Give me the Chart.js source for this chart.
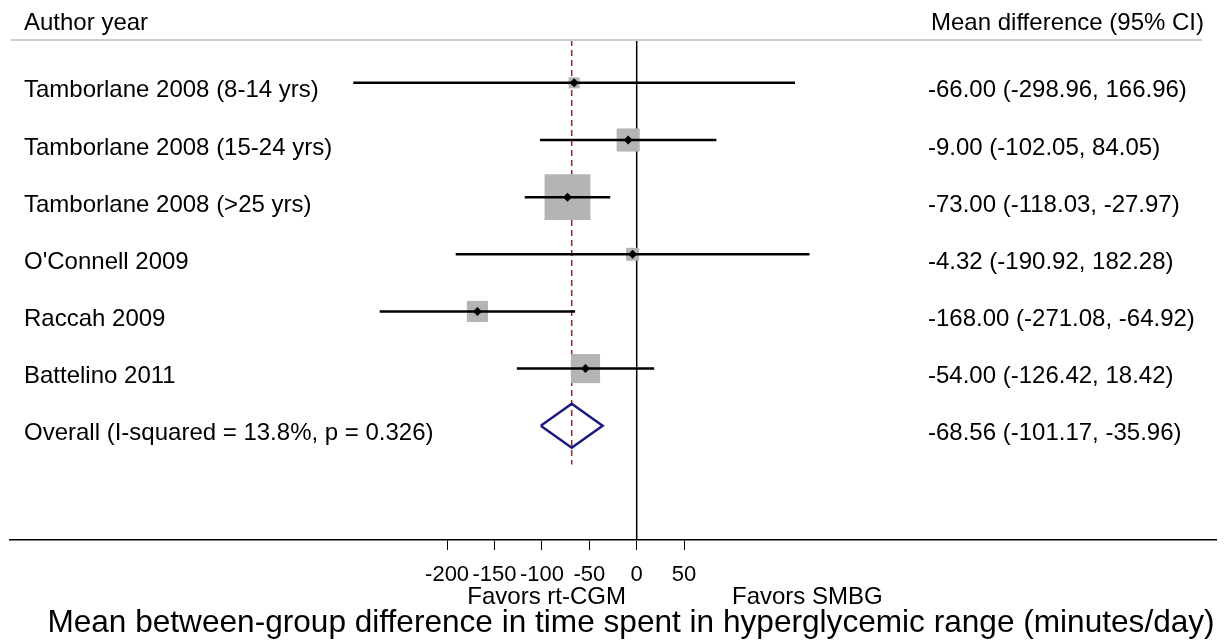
<!DOCTYPE html>
<html><head><meta charset="utf-8">
<script src="https://cdn.jsdelivr.net/npm/chart.js@4.4.1/dist/chart.umd.min.js"></script>
<style>html,body{margin:0;padding:0;background:#fff;}#wrap{width:1226px;height:643px;position:relative;}</style>
</head><body><div id="wrap"><canvas id="c" width="1226" height="643"></canvas></div>
<script>
// ---- data ----
const studies = ["Tamborlane 2008 (8-14 yrs)", "Tamborlane 2008 (15-24 yrs)", "Tamborlane 2008 (>25 yrs)", "O'Connell 2009", "Raccah 2009", "Battelino 2011"];
const estimates = [-66.00, -9.00, -73.00, -4.32, -168.00, -54.00];
const lowerCI = [-298.96, -102.05, -118.03, -190.92, -271.08, -126.42];
const upperCI = [166.96, 84.05, -27.97, 182.28, -64.92, 18.42];
const weights = [2.9, 12.6, 49.8, 4.0, 10.5, 20.1];
const overallLabel = "Overall (I-squared = 13.8%, p = 0.326)";
const overallEst = -68.56;
const overallLower = -101.17;
const overallUpper = -35.96;
const xTicks = [-200, -150, -100, -50, 0, 50];
const headerLeft = "Author year";
const headerRight = "Mean difference (95% CI)";
const favorLeft = "Favors rt-CGM";
const favorRight = "Favors SMBG";
const xTitle = "Mean between-group difference in time spent in hyperglycemic range (minutes/day)";

// ---- styling ----
const FONT = "'Liberation Sans', Arial, Helvetica, sans-serif";
const nStudies = studies.length;
const overallRow = nStudies + 1;
const fmt = (e, l, u) => `${e.toFixed(2)} (${l.toFixed(2)}, ${u.toFixed(2)})`;

const datasets = [];
// reference lines
datasets.push({ data: [{x: 0, y: 0.25}, {x: 0, y: 9}], showLine: true, borderColor: '#000', borderWidth: 1.5, pointRadius: 0, order: 10 });
datasets.push({ data: [{x: overallEst, y: 0.25}, {x: overallEst, y: overallRow + 0.68}], showLine: true, borderColor: '#8e2b2b', borderWidth: 1.5, borderDash: [6, 4], pointRadius: 0, order: 10 });
// weight boxes
datasets.push({ data: estimates.map((e, i) => ({x: e, y: i + 1})), pointStyle: 'rect', pointRadius: weights.map(w => 6.5 * Math.sqrt(w) / (2 * Math.SQRT1_2)), backgroundColor: '#b4b4b4', borderWidth: 0, order: 8 });
// CI lines
for (let i = 0; i < nStudies; i++) {
  datasets.push({ data: [{x: lowerCI[i], y: i + 1}, {x: upperCI[i], y: i + 1}], showLine: true, borderColor: '#000', borderWidth: 2.5, borderCapStyle: 'butt', pointRadius: 0, order: 5 });
}
// overall diamond
const dh = 0.385;
datasets.push({ data: [{x: overallLower, y: overallRow}, {x: overallEst, y: overallRow - dh}, {x: overallUpper, y: overallRow}, {x: overallEst, y: overallRow + dh}, {x: overallLower, y: overallRow}], showLine: true, borderColor: '#1a1a7e', borderWidth: 2.5, borderJoinStyle: 'miter', fill: false, pointRadius: 0, order: 4 });
// point estimates
datasets.push({ data: estimates.map((e, i) => ({x: e, y: i + 1})), pointStyle: 'rectRot', pointRadius: 4.5, backgroundColor: '#000', borderWidth: 0, order: 1 });

const textPlugin = {
  id: 'forestText',
  afterDraw(chart) {
    const ctx = chart.ctx, xs = chart.scales.x, ys = chart.scales.y;
    ctx.save();
    ctx.fillStyle = '#000';
    ctx.textBaseline = 'middle';
    // headers
    ctx.font = `24px ${FONT}`;
    const hy = ys.getPixelForValue(0) - 2;
    ctx.textAlign = 'left';
    ctx.fillText(headerLeft, 24, hy);
    ctx.fillText(headerRight, 931, hy);
    // header rule
    ctx.strokeStyle = '#cccccc';
    ctx.lineWidth = 2;
    ctx.beginPath(); ctx.moveTo(11, 40); ctx.lineTo(1202, 40); ctx.stroke();
    // rows
    for (let i = 0; i < nStudies; i++) {
      const y = ys.getPixelForValue(i + 1) + 8;
      ctx.fillText(studies[i], 24, y);
      ctx.fillText(fmt(estimates[i], lowerCI[i], upperCI[i]), 928, y);
    }
    const oy = ys.getPixelForValue(overallRow) + 8;
    ctx.fillText(overallLabel, 24, oy);
    ctx.fillText(fmt(overallEst, overallLower, overallUpper), 928, oy);
    // favors
    ctx.textAlign = 'center';
    ctx.fillText(favorLeft, xs.getPixelForValue(-95), 597);
    ctx.fillText(favorRight, xs.getPixelForValue(180), 597);
    // title
    ctx.font = `31.6px ${FONT}`;
    ctx.fillText(xTitle, 631, 623);
    ctx.restore();
  }
};

Chart.defaults.font.family = FONT;
new Chart(document.getElementById('c'), {
  type: 'scatter',
  data: { datasets },
  options: {
    responsive: false, animation: false, maintainAspectRatio: false,
    layout: { autoPadding: false, padding: { left: 10, right: 10, top: 40, bottom: 0 } },
    plugins: { legend: { display: false }, tooltip: { enabled: false } },
    scales: {
      x: {
        type: 'linear', min: -661, max: 611,
        afterBuildTicks: s => { s.ticks = xTicks.map(v => ({ value: v })); },
        afterFit: s => { s.height = 103; s.paddingLeft = 0; s.paddingRight = 0; },
        grid: { display: true, drawOnChartArea: false, drawTicks: true, tickLength: 10, color: '#000', lineWidth: 1 },
        border: { display: true, color: '#000', width: 1.5 },
        ticks: { font: { size: 22, family: FONT }, color: '#000', padding: 12, maxRotation: 0, autoSkip: false }
      },
      y: { type: 'linear', min: 0.25, max: 9, reverse: true, display: false }
    }
  },
  plugins: [textPlugin]
});
</script></body></html>
